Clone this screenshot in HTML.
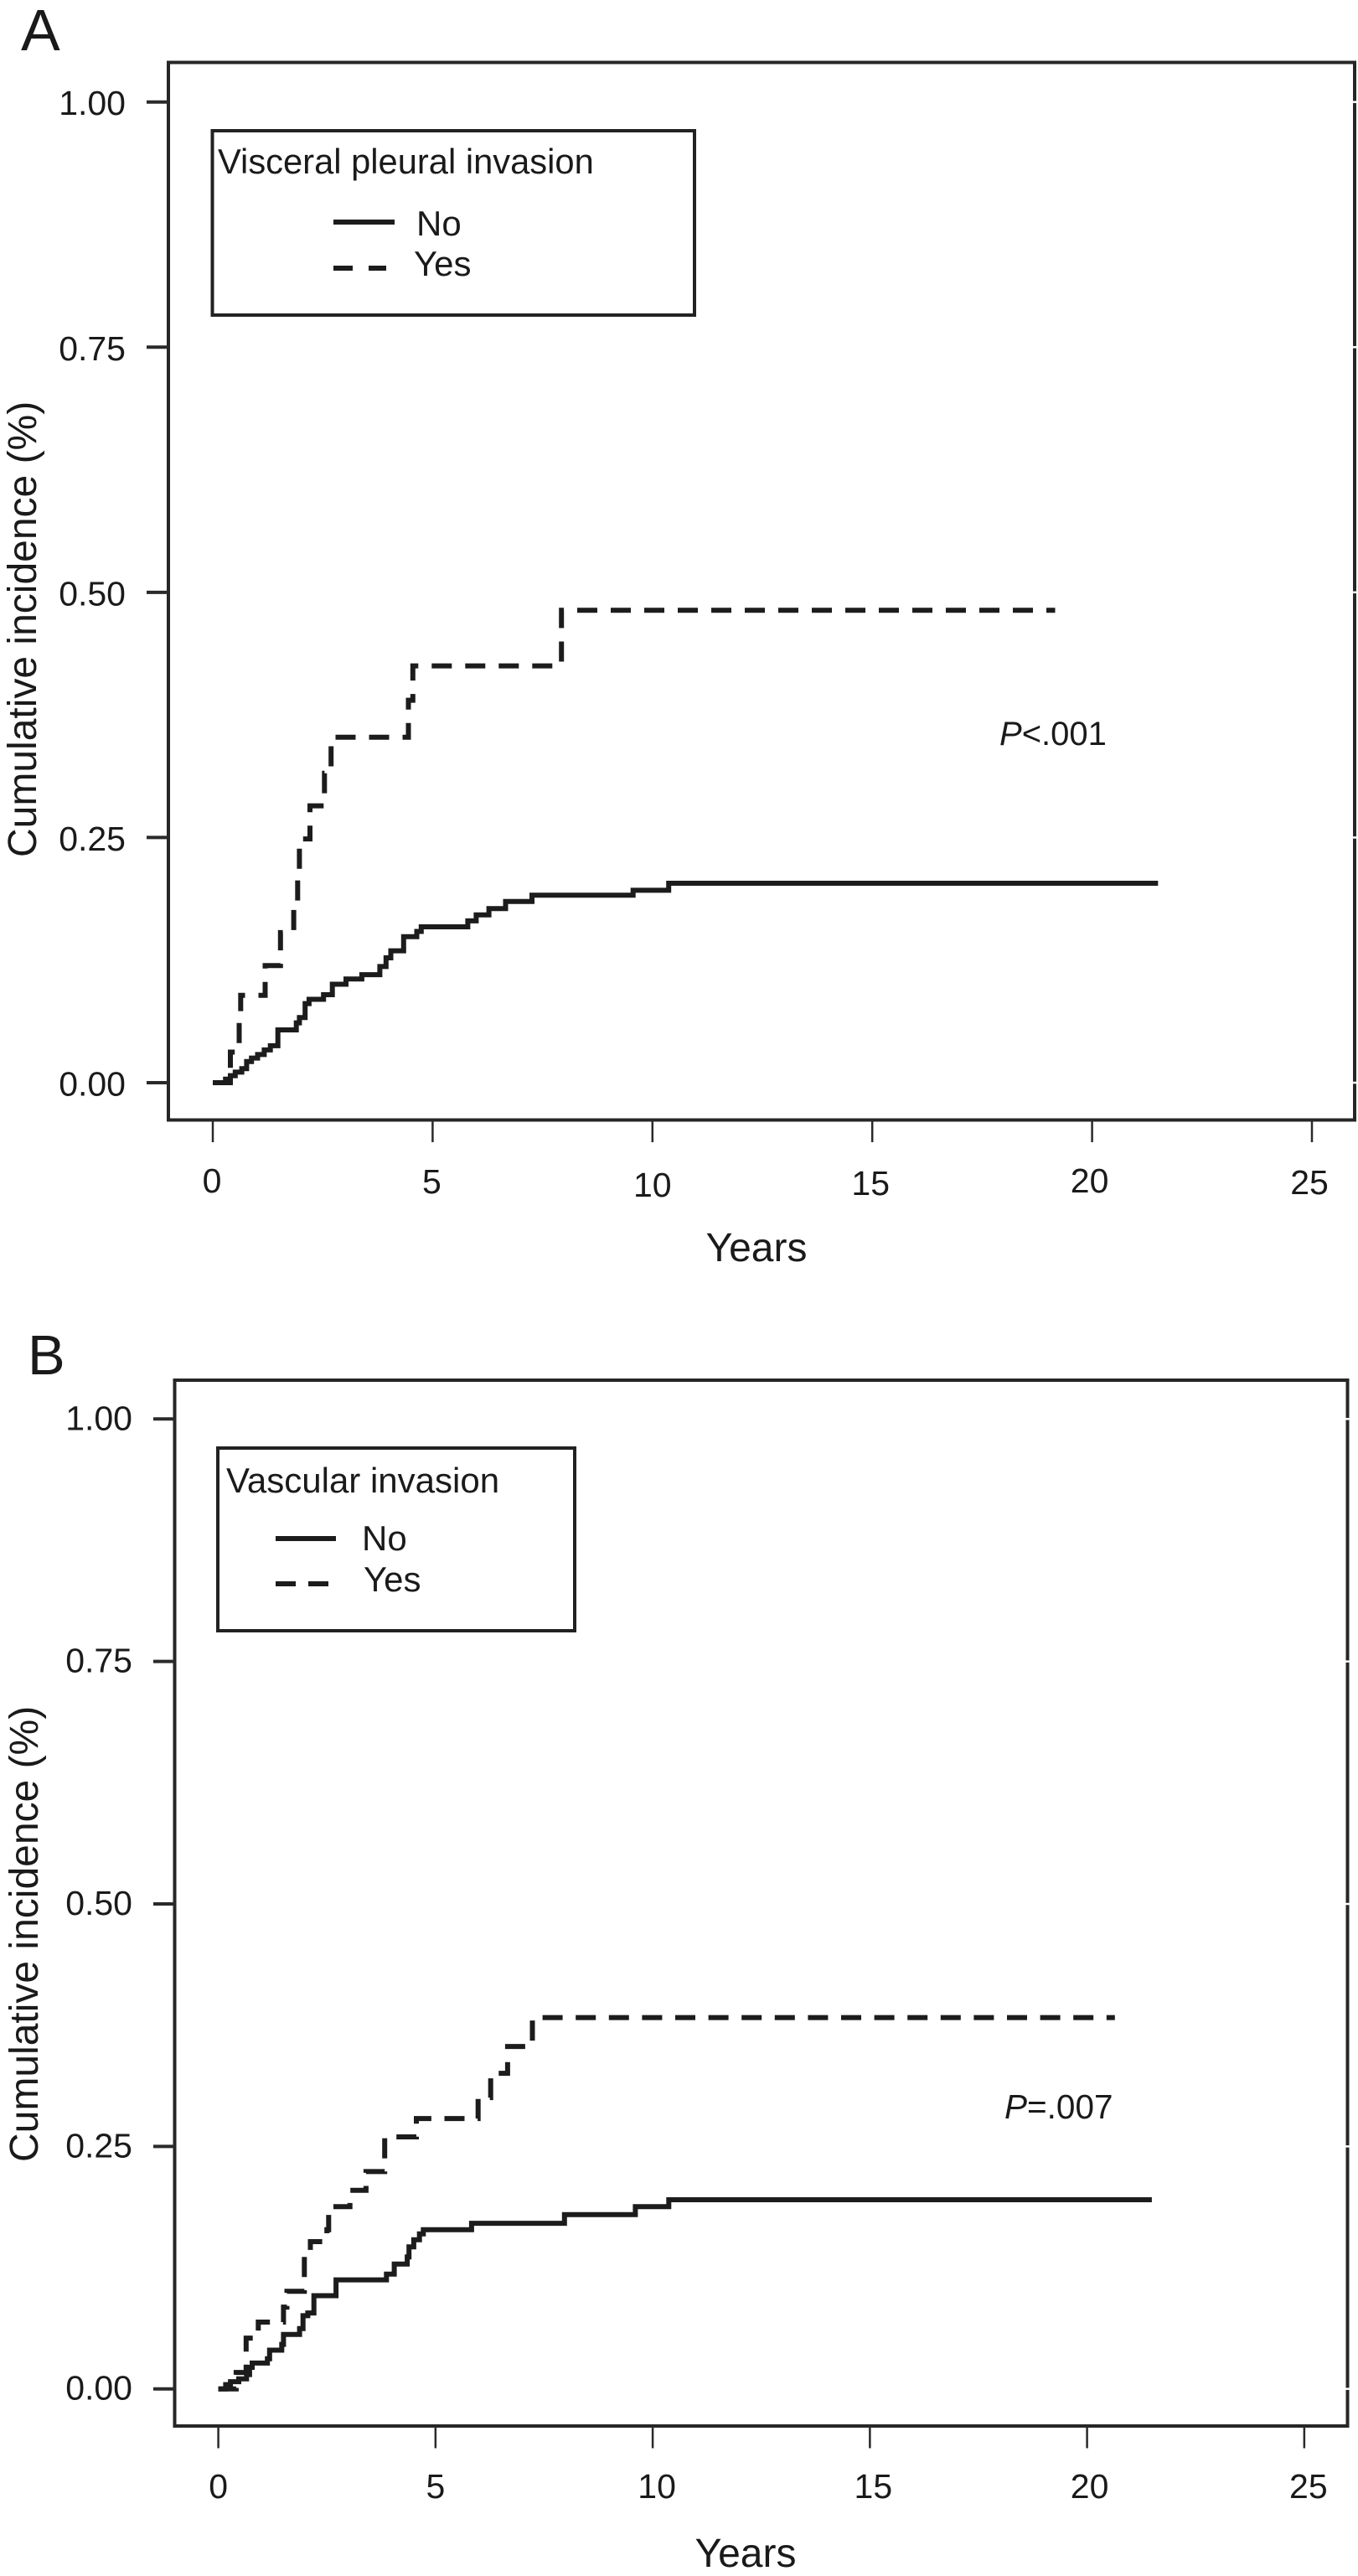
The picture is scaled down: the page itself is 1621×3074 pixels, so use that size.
<!DOCTYPE html>
<html lang="en">
<head>
<meta charset="utf-8">
<title>Cumulative incidence by visceral pleural invasion and vascular invasion</title>
<style>
  html, body { margin: 0; padding: 0; background: #fff; }
  svg { display: block; }
  text { font-family: "Liberation Sans", sans-serif; fill: #1a1a1a; }
  .frame { fill: none; stroke: #262626; stroke-width: 4; }
  .legend-box { fill: none; stroke: #222; stroke-width: 4; }
  .curve { fill: none; stroke: #1c1c1c; stroke-width: 6; stroke-linejoin: miter; stroke-linecap: butt; }
  .tick-y { stroke: #2a2a2a; stroke-width: 4; }
  .tick-x { stroke: #2a2a2a; stroke-width: 2.5; }
  .t40 { font-size: 41px; }
  .t48 { font-size: 48px; }
</style>
</head>
<body>
<svg id="figure" xmlns="http://www.w3.org/2000/svg" width="1621" height="3074" viewBox="0 0 1621 3074">
  <rect x="0" y="0" width="1621" height="3074" fill="#fff"/>

  <g id="panel-a">
    <text x="25" y="60" font-size="70">A</text>
    <rect class="frame" x="201" y="74.5" width="1416" height="1262"/>
    <text class="t48" transform="translate(43,1023) rotate(-90)">Cumulative incidence (%)</text>
    <text class="t48" x="903" y="1505" text-anchor="middle">Years</text>
    <g>
      <rect class="legend-box" x="253.5" y="156" width="575.5" height="220"/>
      <text x="260" y="207" font-size="41.7">Visceral pleural invasion</text>
      <line class="curve" x1="398" y1="265" x2="471" y2="265"/>
      <text x="497" y="281" font-size="42">No</text>
      <line class="curve" x1="398" y1="320" x2="421" y2="320"/>
      <line class="curve" x1="440" y1="320" x2="461" y2="320"/>
      <text x="494" y="329" font-size="42">Yes</text>
    </g>
    <text x="1193" y="889" font-size="40"><tspan font-style="italic">P</tspan>&lt;.001</text>
  </g>

  <g id="panel-b">
    <text x="33" y="1640" font-size="67">B</text>
    <rect class="frame" x="208.5" y="1647" width="1400" height="1248"/>
    <text class="t48" transform="translate(45,2580) rotate(-90)">Cumulative incidence (%)</text>
    <text class="t48" x="890" y="3063" text-anchor="middle">Years</text>
    <g>
      <rect class="legend-box" x="260" y="1728" width="426" height="218"/>
      <text x="270" y="1781" font-size="42">Vascular invasion</text>
      <line class="curve" x1="329" y1="1836" x2="401" y2="1836"/>
      <text x="432" y="1850" font-size="42">No</text>
      <line class="curve" x1="329" y1="1890" x2="353" y2="1890"/>
      <line class="curve" x1="368" y1="1890" x2="392" y2="1890"/>
      <text x="434" y="1899" font-size="42">Yes</text>
    </g>
    <text x="1199" y="2528" font-size="40.5"><tspan font-style="italic">P</tspan>=.007</text>
  </g>
</svg>

<script>
// ---- Shared tick values and labels ----
const xTicks = [0, 5, 10, 15, 20, 25];
const xTickLabels = ["0", "5", "10", "15", "20", "25"];
const yTicks = [0, 0.25, 0.5, 0.75, 1];
const yTickLabels = ["0.00", "0.25", "0.50", "0.75", "1.00"];

// ---- Panel A: Visceral pleural invasion ----
const aNoYears = [0, 0.29, 0.40, 0.51, 0.66, 0.77, 0.88, 1.02, 1.17, 1.31, 1.48, 1.90, 1.97, 2.10, 2.19, 2.52, 2.72, 3.03, 3.39, 3.80, 3.94, 4.05, 4.34, 4.64, 4.74, 5.80, 5.99, 6.28, 6.66, 7.26, 9.56, 10.37, 21.5];
const aNoIncidence = [0, 0.0036, 0.0072, 0.0108, 0.0143, 0.0215, 0.0251, 0.0287, 0.0334, 0.0377, 0.0538, 0.061, 0.0664, 0.0807, 0.085, 0.0897, 0.1004, 0.1058, 0.1101, 0.1184, 0.1273, 0.1345, 0.1489, 0.1542, 0.1589, 0.165, 0.1711, 0.1775, 0.1847, 0.1912, 0.1962, 0.2034, 0.2034];
const aYesYears = [0, 0.40, 0.60, 0.635, 1.19, 1.54, 1.84, 1.93, 1.97, 2.21, 2.54, 2.69, 4.45, 4.55, 7.93, 19.16];
const aYesIncidence = [0, 0.0312, 0.0646, 0.089, 0.1194, 0.153, 0.1775, 0.21, 0.2486, 0.2823, 0.3156, 0.3522, 0.39, 0.425, 0.4817, 0.4817];

// ---- Panel B: Vascular invasion ----
const bNoYears = [0, 0.17, 0.28, 0.47, 0.65, 0.72, 0.78, 1.13, 1.18, 1.46, 1.50, 1.87, 1.95, 2.06, 2.20, 2.71, 3.87, 4.05, 4.35, 4.39, 4.50, 4.63, 4.72, 5.83, 7.97, 9.60, 10.37, 21.49];
const bNoIncidence = [0, 0.0044, 0.0074, 0.0104, 0.0148, 0.0222, 0.0266, 0.031, 0.0399, 0.0459, 0.0562, 0.0621, 0.0754, 0.0783, 0.0961, 0.1124, 0.1183, 0.1287, 0.1361, 0.1464, 0.1538, 0.1598, 0.1642, 0.1707, 0.1796, 0.1879, 0.195, 0.195];
const bYesYears = [0, 0.41, 0.64, 0.92, 1.50, 1.58, 1.98, 2.12, 2.50, 2.54, 3.03, 3.40, 3.83, 4.56, 5.98, 6.27, 6.66, 7.23, 20.64];
const bYesIncidence = [0, 0.0169, 0.0524, 0.0689, 0.0843, 0.1006, 0.1376, 0.1518, 0.1642, 0.1879, 0.2047, 0.224, 0.2598, 0.2787, 0.3003, 0.3254, 0.353, 0.3828, 0.3828];

const SVG_NS = "http://www.w3.org/2000/svg";

function shape(parent, tag, attrs, text) {
  const el = document.createElementNS(SVG_NS, tag);
  for (const k in attrs) el.setAttribute(k, attrs[k]);
  if (text !== undefined) el.textContent = text;
  parent.appendChild(el);
  return el;
}

function axisX(p) { return t => p.x0 + t * p.xPerYear; }
function axisY(p) { return v => p.y0 - v * p.yPerUnit; }

function stepPath(times, values, sx, sy) {
  let d = "M" + sx(times[0]).toFixed(1) + " " + sy(values[0]).toFixed(1);
  for (let i = 1; i < times.length; i++) {
    d += "H" + sx(times[i]).toFixed(1) + "V" + sy(values[i]).toFixed(1);
  }
  return d;
}

function drawPanel(p) {
  const root = document.getElementById(p.id);
  const sx = axisX(p);
  const sy = axisY(p);

  yTicks.forEach((v, i) => {
    const tick = shape(root, "line", { class: "tick-y", x1: p.yTickLeft, x2: p.frameLeft, y1: sy(v), y2: sy(v) });
    
    
    const label = shape(root, "text", { class: "t40", x: p.yLabelRight, y: sy(v) + p.yLabelDrop, "text-anchor": "end" }, yTickLabels[i]);
    
    
    const gap = shape(root, "line", { x1: p.frameRight - 3, x2: p.frameRight + 3, y1: sy(v), y2: sy(v), stroke: "#fff", "stroke-width": 2.5 });
    
    
  });

  xTicks.forEach((t, i) => {
    const tick = shape(root, "line", { class: "tick-x", x1: sx(t), x2: sx(t), y1: p.frameBottom, y2: p.xTickBottom });
    
    
    const label = shape(root, "text", { class: "t40", x: sx(t) + p.xLabelNudgeX[i], y: p.xLabelBase + p.xLabelNudgeY[i], "text-anchor": "middle" }, xTickLabels[i]);
    
    
  });

  const noCurve = shape(root, "path", { class: "curve", d: stepPath(p.noYears, p.noValues, sx, sy) });
  
  

  const yesCurve = shape(root, "path", { class: "curve", d: stepPath(p.yesYears, p.yesValues, sx, sy), "stroke-dasharray": p.dashGap, "stroke-dashoffset": p.dashShift });
  
  
}

drawPanel({
  id: "panel-a",
  x0: 254, xPerYear: 52.48, y0: 1292, yPerUnit: 1170.3,
  frameLeft: 201, frameRight: 1617, frameBottom: 1336.5,
  yTickLeft: 175, yLabelRight: 150, yLabelDrop: 15.5,
  xTickBottom: 1363, xLabelBase: 1424,
  xLabelNudgeX: [-1, -1, 0, -2, -3, -3],
  xLabelNudgeY: [-1, 0, 4, 2, -1, 1],
  dashGap: "24 16", dashShift: 1.3,
  noYears: aNoYears, noValues: aNoIncidence,
  yesYears: aYesYears, yesValues: aYesIncidence
});

drawPanel({
  id: "panel-b",
  x0: 260.6, xPerYear: 51.85, y0: 2850.7, yPerUnit: 1157.4,
  frameLeft: 208.5, frameRight: 1608.5, frameBottom: 2895,
  yTickLeft: 183, yLabelRight: 158, yLabelDrop: 13,
  xTickBottom: 2921.5, xLabelBase: 2981,
  xLabelNudgeX: [0, 0, 5, 4, 3, 5],
  xLabelNudgeY: [0, 0, 0, 0, 0, 0],
  dashGap: "24 15.6", dashShift: 1.5,
  noYears: bNoYears, noValues: bNoIncidence,
  yesYears: bYesYears, yesValues: bYesIncidence
});
</script>
</body>
</html>
